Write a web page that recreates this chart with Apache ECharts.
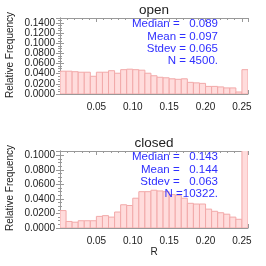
<!DOCTYPE html>
<html><head><meta charset="utf-8">
<script src="https://cdn.jsdelivr.net/npm/echarts@6/dist/echarts.min.js"></script>
<style>html,body{margin:0;padding:0;background:#fff}#c{width:266px;height:266px}</style>
</head><body><div id="c"></div>
<script>
// Histogram bins: 30 bins of width 0.25/30 from 0 to 0.25, plus one overflow bin (R >= 0.25)
const binCount = 31;
const binWidth = 0.25 / 30;
const openFreq = [0.045,0.045,0.044,0.043,0.043,0.035,0.043,0.043,0.046,0.041,0.048,0.049,0.048,0.047,0.041,0.036,0.033,0.032,0.030,0.029,0.030,0.023,0.022,0.021,0.015,0.015,0.014,0.012,0.012,0.004,0.048];
const closedFreq = [0.024,0.009,0.008,0.010,0.010,0.010,0.016,0.017,0.015,0.022,0.032,0.031,0.041,0.050,0.050,0.052,0.051,0.050,0.046,0.045,0.041,0.034,0.033,0.033,0.026,0.023,0.021,0.019,0.015,0.012,0.115];
const panelTitles = ['open', 'closed'];
const statsOpen = ['Median =   0.089', 'Mean = 0.097', 'Stdev = 0.065', 'N = 4500.'];
const statsClosed = ['Median =   0.143', 'Mean =   0.144', 'Stdev =   0.063', 'N =10322.'];
const xTicks = [0.05, 0.10, 0.15, 0.20, 0.25];
const yMaxOpen = 0.15, yMaxClosed = 0.106;
const xMax = 0.25 / 30 * 31;

function toData(arr){ return arr.map((v,i)=>[i*binWidth,(i+1)*binWidth,v]); }

const axisColor = '#999';
const textColor = '#222';
const font = 'Liberation Sans, Arial, sans-serif';

function renderItem(params, api){
  const p0 = api.coord([api.value(0), api.value(2)]);
  const p1 = api.coord([api.value(1), 0]);
  return {type:'rect', shape:{x:p0[0], y:p0[1], width:p1[0]-p0[0], height:p1[1]-p0[1]},
    style:{fill:'#ffdcdc', stroke:'#f2a9a9', lineWidth:1}};
}

const grids = [
  {left:60, top:18, width:188, height:76},
  {left:60, top:151, width:188, height:77}
];
function xAx(gi, pos){
  return {type:'value', gridIndex:gi, position:pos, min:0, max:xMax, interval:0.05,
    axisLine:{show:true, onZero:false, lineStyle:{color:axisColor}},
    axisTick:{show:true, inside:true, length:4, lineStyle:{color:axisColor}},
    minorTick:{show:true, splitNumber:5, length:2, lineStyle:{color:axisColor}},
    splitLine:{show:false},
    axisLabel:{show:pos==='bottom', margin:8, color:textColor, fontFamily:font, fontSize:10,
      showMaxLabel:false, showMinLabel:false,
      formatter:v=> xTicks.some(t=>Math.abs(t-v)<1e-9) ? v.toFixed(2) : ''}};
}
function yAx(gi, pos, max){
  return {type:'value', gridIndex:gi, position:pos, min:0, max:max, interval:0.02,
    axisLine:{show:true, lineStyle:{color:axisColor}},
    axisTick:{show:true, inside:true, length:4, lineStyle:{color:axisColor}},
    minorTick:{show:true, splitNumber:4, length:2, lineStyle:{color:axisColor}},
    splitLine:{show:false},
    axisLabel:{show:pos==='left', margin:5, color:textColor, fontFamily:font, fontSize:10,
      showMaxLabel:false, formatter:v=>v.toFixed(4)}};
}

const graphics = [];
function addStats(lines, y0){
  const ys = [0, 12.4, 24.8, 37.2];
  lines.forEach((s,i)=>graphics.push({type:'text', x:218, y:y0+ys[i], z:100,
    style:{text:s, fill:'#2f2fff', font:'11.5px '+font, textAlign:'right', textVerticalAlign:'middle'}}));
}
addStats(statsOpen, 24);
addStats(statsClosed, 157);
[10, 143].forEach((y,i)=>graphics.push({type:'text', x:154, y:y, z:100,
  style:{text:panelTitles[i], fill:textColor, font:'13.5px '+font, textAlign:'center', textVerticalAlign:'middle'}}));
[55, 188].forEach(y=>graphics.push({type:'text', x:10, y:y, rotation:Math.PI/2, z:100,
  style:{text:'Relative Frequency', fill:textColor, font:'10px '+font, textAlign:'center', textVerticalAlign:'middle'}}));
graphics.push({type:'text', x:154, y:252, z:100, style:{text:'R', fill:textColor, font:'10px '+font, textAlign:'center', textVerticalAlign:'middle'}});

const chart = echarts.init(document.getElementById('c'), null, {renderer:'canvas'});
chart.setOption({
  animation:false,
  grid:grids,
  xAxis:[xAx(0,'bottom'), xAx(0,'top'), xAx(1,'bottom'), xAx(1,'top')],
  yAxis:[yAx(0,'left',yMaxOpen), yAx(0,'right',yMaxOpen), yAx(1,'left',yMaxClosed), yAx(1,'right',yMaxClosed)],
  series:[
    {type:'custom', xAxisIndex:0, yAxisIndex:0, renderItem:renderItem, clip:true, data:toData(openFreq), z:1},
    {type:'custom', xAxisIndex:2, yAxisIndex:2, renderItem:renderItem, clip:true, data:toData(closedFreq), z:1}
  ],
  graphic:{elements:graphics}
});
</script></body></html>
